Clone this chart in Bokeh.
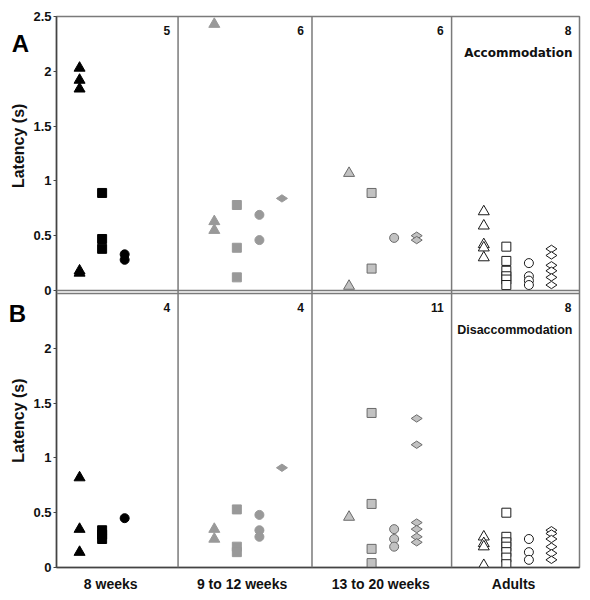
from bokeh.plotting import figure
from bokeh.layouts import row
from bokeh.models import Range1d, FixedTicker, Span
from bokeh.embed import file_html
from bokeh.resources import INLINE
from bokeh.core.properties import value
import math

# ---------------- data ----------------
GROUPS = ["8 weeks", "9 to 12 weeks", "13 to 20 weeks", "Adults"]

# Panel A (Accommodation) latencies in seconds, per group
A_TRI = [[2.03, 1.92, 1.84, 0.18, 0.16], [2.43, 0.63, 0.55], [1.07, 0.04], [0.72, 0.59, 0.42, 0.39, 0.30]]
A_SQ = [[0.89, 0.47, 0.38], [0.78, 0.39, 0.12], [0.89, 0.20], [0.40, 0.27, 0.18, 0.13, 0.10, 0.05]]
A_CIRC = [[0.33, 0.28], [0.69, 0.46], [0.48], [0.25, 0.13, 0.09, 0.05]]
A_DIAM = [[], [0.84], [0.50, 0.46], [0.38, 0.32, 0.23, 0.18, 0.12, 0.05]]
A_COUNTS = [5, 6, 6, 8]

# Panel B (Disaccommodation)
B_TRI = [[0.82, 0.35, 0.14], [0.35, 0.26], [0.46], [0.28, 0.22, 0.19, 0.02]]
B_SQ = [[0.34, 0.30, 0.26], [0.53, 0.19, 0.14], [1.41, 0.58, 0.17, 0.04], [0.50, 0.28, 0.23, 0.19, 0.14, 0.09, 0.03]]
B_CIRC = [[0.45], [0.48, 0.34, 0.28], [0.35, 0.26, 0.19], [0.26, 0.14, 0.07]]
B_DIAM = [[], [0.91], [1.36, 1.12, 0.41, 0.35, 0.28, 0.23], [0.34, 0.31, 0.26, 0.19, 0.13, 0.07]]
B_COUNTS = [4, 4, 11, 8]

Y_TICKS_A = [0, 0.5, 1, 1.5, 2, 2.5]
Y_TICKS_B = [0, 0.5, 1, 1.5, 2]
Y_MAX = 2.5

# ---------------- layout / style ----------------
GAP = 0.0274                 # small white gap between the two panels
B_OFF = -(Y_MAX + GAP)       # panel B is drawn below panel A on one shared axis
X0, X1 = -0.4222, 3.4593
DIVIDERS = [0.48, 1.474, 2.51]
COL_RIGHT = DIVIDERS + [X1]
OFFSETS = [-0.251, -0.0837, 0.0837, 0.251]
FILLS = ["#000000", "#999999", "#c2c2c2", "#ffffff"]
LINES = ["#000000", "#999999", "#6a6a6a", "#1a1a1a"]
FONT = "Liberation Sans"
FRAME_COL = "#7a7a7a"

TOP, BOTTOM = 16, 28
HEIGHT = 595
SIDE_W = 30
y_range = Range1d(B_OFF, Y_MAX)

p = figure(width=560, height=HEIGHT,
           x_range=Range1d(X0, X1), y_range=y_range,
           output_backend="svg", toolbar_location=None,
           min_border_left=25, min_border_right=11,
           min_border_top=TOP, min_border_bottom=BOTTOM)
p.grid.visible = False
p.outline_line_color = FRAME_COL
p.outline_line_width = 1.5

# y axis with ticks for both panels
ticks = [float(v) for v in Y_TICKS_A] + [round(B_OFF + v, 6) for v in Y_TICKS_B]
labels = [f"{v:g}" for v in Y_TICKS_A] + [f"{v:g}" for v in Y_TICKS_B]
ax = p.yaxis[0]
ax.ticker = FixedTicker(ticks=ticks)
ax.major_label_overrides = dict(zip(ticks, labels))
ax.minor_tick_line_color = None
ax.major_tick_out = 3
ax.major_tick_in = 0
ax.major_tick_line_color = "#444444"
ax.axis_line_color = "#444444"
ax.axis_line_width = 1.5
ax.major_label_text_font = FONT
ax.major_label_text_font_style = "bold"
ax.major_label_text_font_size = "13px"
ax.major_label_text_color = "#111111"
ax.major_label_standoff = 2

xa = p.xaxis[0]
cat_ticks = [-0.02, 0.955, 1.985, 2.97]
xa.ticker = FixedTicker(ticks=cat_ticks)
xa.major_label_overrides = dict(zip(cat_ticks, GROUPS))
xa.major_tick_out = 0
xa.major_tick_in = 0
xa.minor_tick_line_color = None
xa.axis_line_color = "#444444"
xa.axis_line_width = 1.5
xa.major_label_text_font = FONT
xa.major_label_text_font_style = "bold"
xa.major_label_text_font_size = "14px"
xa.major_label_text_color = "#111111"
xa.major_label_standoff = 8

for d in DIVIDERS:
    p.add_layout(Span(location=d, dimension="height", line_color=FRAME_COL, line_width=1.5))
for yl in (0, -GAP):
    p.add_layout(Span(location=yl, dimension="width", line_color=FRAME_COL, line_width=1.5))


def add_points(series_list, yoff):
    for vals, j, marker, size, angle in series_list:
        for g, ys in enumerate(vals):
            if not ys:
                continue
            xs = [g + OFFSETS[j]] * len(ys)
            p.scatter(xs, [y + yoff for y in ys], marker=marker, size=size, angle=angle,
                      fill_color=FILLS[g], line_color=LINES[g], line_width=1)


for (tri, sq, circ, diam), yoff in (((A_TRI, A_SQ, A_CIRC, A_DIAM), 0.0),
                                    ((B_TRI, B_SQ, B_CIRC, B_DIAM), B_OFF)):
    add_points([
        (tri, 0, "triangle", 11, 0),
        (sq, 1, "square", 9, 0),
        (circ, 2, "circle", 9, 0),
        (diam, 3, "diamond", 11, math.pi / 2),
    ], yoff)

for counts, yoff, caption, cfont, csize in ((A_COUNTS, 0.0, "Accommodation", "DejaVu Sans", "12px"),
                                            (B_COUNTS, B_OFF, "Disaccommodation", FONT, "12.5px")):
    p.text(x=COL_RIGHT, y=[2.37 + yoff] * 4, text=[str(c) for c in counts],
           x_offset=-8, text_align="right", text_baseline="middle",
           text_font=value(FONT), text_font_style="bold", text_font_size="12px",
           text_color="#111111")
    p.text(x=[X1], y=[2.17 + yoff], text=[caption], x_offset=-7,
           text_align="right", text_baseline="middle",
           text_font=value(cfont), text_font_style="bold", text_font_size=csize,
           text_color="#111111")

# ---- narrow side strip holding panel letters and the y-axis titles ----
side = figure(width=SIDE_W, height=HEIGHT, x_range=Range1d(0, SIDE_W), y_range=y_range,
              output_backend="svg", toolbar_location=None,
              min_border_left=0, min_border_right=0,
              min_border_top=TOP, min_border_bottom=BOTTOM,
              x_axis_location=None, y_axis_location=None)
side.grid.visible = False
side.outline_line_color = None

side.text(x=[20, 17], y=[2.25, B_OFF + 2.32], text=["A", "B"],
          text_align="center", text_baseline="middle",
          text_font=value(FONT), text_font_style="bold", text_font_size="24px",
          text_color="#000000")
side.text(x=[17.5, 17.5], y=[1.32, B_OFF + 1.34], text=["Latency (s)", "Latency (s)"],
          angle=math.pi / 2, text_align="center", text_baseline="middle",
          text_font=value(FONT), text_font_style="bold", text_font_size="16px",
          text_color="#111111")

layout = row(side, p, spacing=0)
open("out.html", "w").write(file_html(layout, INLINE))
